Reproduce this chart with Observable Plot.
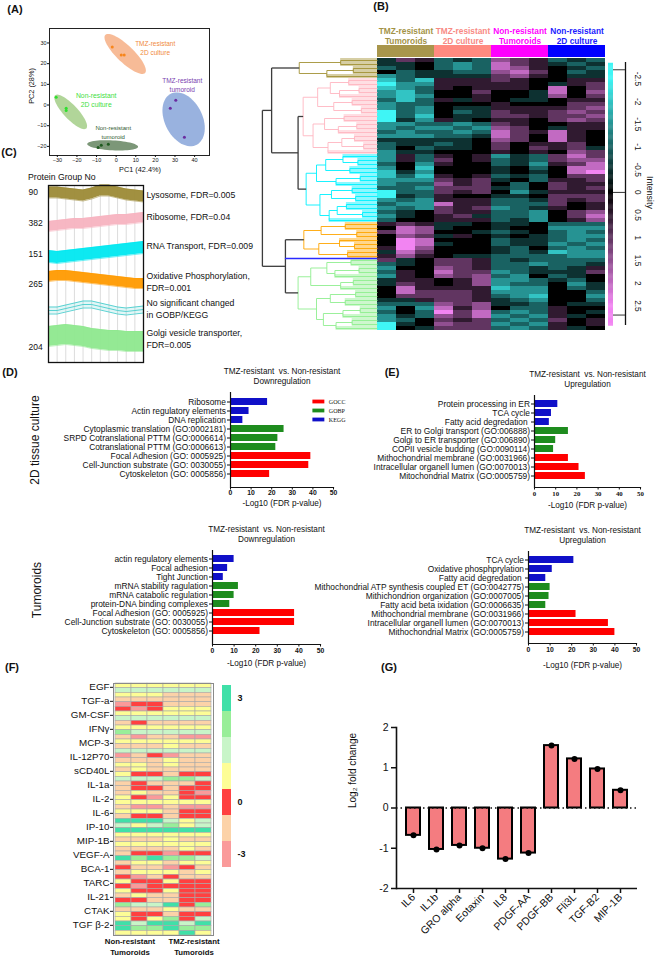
<!DOCTYPE html>
<html><head><meta charset="utf-8">
<script src="https://cdn.jsdelivr.net/npm/d3@7"></script>
<script src="https://cdn.jsdelivr.net/npm/@observablehq/plot@0.6"></script>
<style>
body{margin:0;background:#fff;}
#fig{position:relative;width:660px;height:961px;overflow:hidden;background:#fff;font-family:"Liberation Sans",Arial,sans-serif;}
.abs{position:absolute;}
</style></head><body><div id="fig"></div>
<script>
const FONT='"Liberation Sans", Arial, sans-serif';
const SERIF='"Liberation Serif", "Times New Roman", serif';
const fig=document.getElementById("fig");

// ---------- (A) PCA ----------
const pcaGroups=["TMZ-resistant\n2D culture","TMZ-resistant\ntumoroid","Non-resistant\n2D culture","Non-resistant\ntumoroid"];
const pcaPC1=[[-2.0,2.6,4.1],[27.6,30.4,34.8],[-30.6,-25.5,-25.5],[-9.2,-7.6,-4.0]];
const pcaPC2=[[28.0,24.2,24.2],[-1.5,2.3,-15.6],[3.8,-1.6,-2.6],[-20.5,-19.5,-19.0]];
const ellCX=[4.6,34.4,-23.2,-1.8];
const ellCY=[24.7,-6.9,-3.3,-19.5];
const ellRA=[13.7,14.0,11.3,13.0];
const ellRB=[4.2,9.5,3.5,2.4];
const ellAngle=[-42,-60,-45,-3];
const labPC1=[19.9,33.7,-10.2,-1.5];
const labPC2=[27.8,9.9,2.6,-13.0];
const pcaTicksX=[-30,-20,-10,0,10,20,30,40];
const pcaTicksY=[-20,-10,0,10,20,30];

// ---------- (B) heatmap ----------
const sampleIds=d3.range(12);
const groupNames=["TMZ-resistant\nTumoroids","TMZ-resistant\n2D culture","Non-resistant\nTumoroids","Non-resistant\n2D culture"];
// row codes: a=-2.5, b=-2 ... f=0 ... k=2.5
const heatRows=[
"ehgdedihgded","eefdcdjhgede","defdcdjigfed","fdeeddijhfde","cdeeeehigfee",
"bdbggghgffgg","accgggggfegh","bcdgfgggfjfh","cbdffhffejfi","cbcffgffeifh","dbdgegfeefgg","cddfffgfffhh","cdcfeegggghi","adcfdehgghih","adbfeehhghhi","aecgefggfhih","ccddcdhgffgg","cdccdcihfegg","dcddcdjhgjgf","cccddejhfjgf","eeeeefihfjgf","deedefhfgghf","dfdeefhfhghe","ceefffgfgfih",
"cgdgfgcedhjh","cgdhfgdedhii","dfcgffdecghj","cfbfffefdfjj","becfffefefjk","bdbgfgdedfhh","ccchghefdggh","cddighfdfhgg","ddchhhedfhgh","addhghfceggg","aedgffeefhhh","cdcgggddehgh","dccjggdddhfg","cdchghcdegfg","defhggddcfhi","cefgheddcfhj","dffgggdecfgi",
"ghgeefeefddd","fjieffeffccc","hjiffedefdcd","fihegfefedcc","fkjfffdeedcd","fkjeffdeecdc","gkifffedfdcd","ejhfffedebcc","gigfeeddddcc",
"hefhhgdedddd","defhhgddcdde","cffihgddedeg","dgfjhhcdeeeh","cgfihidcfdef","eggfgiccdedf","ehgfgicddfce","fjggggbccfde","fjhhhgcccffd","fhhhhgdcbffc","eeghhgedcffd","dddihieedfee","cfcjgifddgff","dfdkhjdcdgfe","cedihjcdcgef","cdfhghdcdhfg","aefihhcdcgfg","afehhhdcdgef"];
const clusterSizes=[5,19,17,9,18];
const clusterColors=["#a39236","#ffb6c1","#00f0ff","#ffa500","#90ee90"];
// linkage heights between adjacent rows (67 values)
const mergeHeights=[3.2,6.8,2.1,4.4, 9.2,
 2.5,4.1,1.6,3.3,5.2,2.2,3.8,1.4,6.46,2.9,4.6,1.8,3.4,5.6,2.0,3.1,1.2,4.3, 6.9,
 3.0,1.7,4.5,2.4,5.3,1.5,3.6,6.2,2.2,4.0,1.9,5.0,2.7,3.5,1.3,4.2, 10.0,
 2.8,4.9,1.8,6.4,3.3,2.0,5.1,2.6, 8.0,
 2.3,4.4,1.6,3.7,5.8,2.1,3.2,6.9,1.9,4.1,2.8,5.3,1.5,3.0,4.7,2.2,3.6];
const blueLeaf=[{h:8.0,row:50}];
const intensityTicks=[-2.5,-2,-1.5,-1,-0.5,0,0.5,1,1.5,2,2.5];

// ---------- (C) profiles ----------
const profNames=["olive","pink","cyan","orange","nosig","golgi"];
const profColors=["#9c8a36","#f7b3c0","#00e8f0","#ff9a00","#36c8c8","#8ee88e"];
const profCenter=[
 [0.1,0.1,0,-0.1,-0.2,0,0.3,0.3,0.1,-0.1,-0.2,-0.3],
 [-3.3,-3.2,-3.1,-3.0,-3.0,-2.9,-2.8,-2.7,-2.6,-2.6,-2.5,-2.4],
 [-6.3,-6.4,-6.3,-6.2,-6.1,-6.0,-5.9,-5.8,-5.7,-5.6,-5.5,-5.4],
 [-8.3,-8.2,-8.2,-8.3,-8.4,-8.5,-8.6,-8.7,-8.8,-8.9,-9.0,-9.0],
 [-11.7,-11.7,-11.5,-11.3,-11.1,-11.1,-11.3,-11.5,-11.7,-11.8,-11.7,-11.6],
 [-14.3,-14.2,-14.1,-14.2,-14.3,-14.5,-14.6,-14.7,-14.7,-14.8,-14.8,-14.8]];
const profSpread=[0.55,0.5,0.6,0.5,0.35,1.0];
const profLabels=["Lysosome, FDR=0.005","Ribosome, FDR=0.04","RNA Transport, FDR=0.009","Oxidative Phosphorylation,\nFDR=0.001","No significant changed\nin GOBP/KEGG","Golgi vesicle transporter,\nFDR=0.005"];
const profLabelY=[-0.1,-2.3,-5.2,-8.8,-11.5,-14.5];
const groupCounts=["90","382","151","265","204"];
const groupCountY=[0.1,-3.0,-6.1,-9.1,-15.4];

// ---------- (D)/(E) enrichment ----------
const enrTypes=["KEGG","KEGG","KEGG","GOBP","GOBP","GOBP","GOCC","GOCC","GOCC"];
const typeDomain=["GOCC","GOBP","KEGG"];
const typeColors=["#ff0000","#1e8c1e","#1010c8"];
const d1Names=["Ribosome","Actin regulatory elements","DNA replication","Cytoplasmic translation (GO:0002181)","SRPD Cotranslational PTTM (GO:0006614)","Cotranslational PTTM (GO:0006613)","Focal Adhesion (GO: 0005925)","Cell-Junction substrate (GO: 0030055)","Cytoskeleton (GO: 0005856)"];
const d1Values=[18,9,6,26,23,22,39,38,19];
const e1Names=["Protein processing in ER","TCA cycle","Fatty acid degredation ","ER to Golgi transport (GO:006888)","Golgi to ER transporter (GO:006890)","COPII vesicle budding (GO:0090114)","Mithochondrial membrane (GO:0031966)","Intracellular organell lumen (GO:0070013)","Mitochondrial Matrix (GO:0005759)"];
const e1Values=[11,8,7,16,10,9,16,21,24];
const d2Names=["actin regulatory elements","Focal adhesion","Tight Junction","mRNA stability ragulation","mRNA catabolic regulation","protein-DNA binding complexes","Focal Adhesion (GO: 0005925)","Cell-Junction substrate (GO: 0030055)","Cytoskeleton (GO: 0005856)"];
const d2Values=[10,7,5,12,10,8,38,38,22];
const e2Names=["TCA cycle","Oxidative phosphprylation","Fatty acid degredation ","Mithochondrial ATP synthesis coupled ET (GO:0042775)","Mithichondrion organization (GO:0007005)","Fatty acid beta ixidation (GO:0006635)","Mithochondrial membrane (GO:0031966)","Intracellular organell lumen (GO:0070013)","Mithochondrial Matrix (GO:0005759)"];
const e2Values=[21,11,8,10,9.5,8,22,37,40];
const enrTicks=[0,10,20,30,40,50];

// ---------- (F) cytokine heatmap ----------
const cytokines=["EGF","TGF-a","GM-CSF","IFNγ","MCP-3","IL-12P70","sCD40L","IL-1a","IL-2","IL-6","IP-10","MIP-1B","VEGF-A","BCA-1","TARC","IL-21","CTAK","TGF β-2"];
const fCols=["N1","N2","N3","T1","T2","T3"];
const fLevels=["T","G","L","Y","R","P","K"];
const fLevelColors=["#40e0a8","#99ee99","#c8f5c8","#fdfd96","#ff4040","#fcd2a8","#fa9a9a"];
const fLegendText=[["T","3"],["R","0"],["K","-3"]];
const fRows=["YYYYYY","LLLLLL","YYYPPP","PPPPPP","KRRPPP","RKRYYY","YYYYYY","LLLLLL","PRPPPP","YYYYYY","GLLLLL","PKPPKK","YYYYYY","PPPYPP","LLLLLL","KPRKPP","PPPYPP","YYPYPP","PYPPPP","YRRPRR","LLLGGL","PRPPPR","PRRPRR","PYPPRK","YRKYRR","YYYYYY","PKKPKK","YYYPRR","PRRPRR","TTTLYL","LYLGYL","TTTTTT","YYYYYY","PPPYPP","YYYYYY","PPPPYP","PRRKRR","TGTGGL","PYYPYY","RPPKRP","PYYYPY","RKPRPP","YRRYRR","RKRRRR","YRRYRR","PYPPRR","RRPPRR","GLLTRG","PPPYPP","YRRPRR","YRYGRL","TLTTLT","TGGTGG","YYYYTY"];

// ---------- (G) fold change ----------
const gNames=["IL6","IL1b","GRO alpha","Eotaxin","IL8","PDGF-AA","PDGF-BB","Fli3L","TGF-B2","MIP-1B"];
const gValues=[-0.68,-1.03,-0.93,-1.0,-1.27,-1.12,1.55,1.22,0.97,0.44];

// ================= helpers =================
function place(node,left,top,w){const d=document.createElement("div");d.className="abs";d.style.left=left+"px";d.style.top=top+"px";if(w)d.style.width=w+"px";d.appendChild(node);fig.appendChild(d);}
function mk(o){const st=Object.assign({background:"transparent",overflow:"visible",fontFamily:FONT,color:"#111"},o.style||{});return Plot.plot(Object.assign({},o,{style:st}));}
function label(text,x,y,o={}){const d=document.createElement("div");d.textContent=text;
 d.style.cssText=`position:absolute;left:${x}px;top:${y}px;white-space:pre;line-height:${o.lh||1.2};font-size:${o.size||10}px;font-weight:${o.weight||"normal"};color:${o.color||"#111"};font-family:${o.font||FONT};text-align:${o.align||"center"};transform:translate(${o.anchor==="start"?"0":"-50%"},-50%) rotate(${o.rotate||0}deg);`;
 fig.appendChild(d);}

// ================= (A) =================
const ellFill=["#f6b48c","#8eaadc","#a9d08e","#6e8c69"];
const ptColor=["#f7861c","#6a2ca0","#2ee02e","#1f5a1f"];
const labColor=["#f08a3c","#7a3fb0","#3ee03e","#2f5a2f"];
const labSize=[6.5,6.5,6.8,6.0];
const ellPts=[];
pcaGroups.forEach((g,k)=>{const a=ellAngle[k]*Math.PI/180;for(let t=0;t<=360;t+=6){const u=t*Math.PI/180;
 ellPts.push({k,x:ellCX[k]+ellRA[k]*Math.cos(u)*Math.cos(a)-ellRB[k]*Math.sin(u)*Math.sin(a),y:ellCY[k]+ellRA[k]*Math.cos(u)*Math.sin(a)+ellRB[k]*Math.sin(u)*Math.cos(a)});}});
const pcaPts=pcaGroups.flatMap((g,k)=>pcaPC1[k].map((x,i)=>({k,x,y:pcaPC2[k][i]})));
place(mk({width:215,height:176,marginLeft:49,marginRight:6,marginTop:28,marginBottom:21,
 x:{domain:[-34,47.6]},y:{domain:[-24.4,37]},color:{type:"identity"},
 style:{fontSize:"5.5px"},
 marks:[
  ...pcaGroups.map((g,k)=>Plot.line(ellPts.filter(p=>p.k===k),{x:"x",y:"y",fill:ellFill[k],fillOpacity:0.9,stroke:"none"})),
  Plot.dot(pcaPts,{x:"x",y:"y",r:1.5,fill:d=>ptColor[d.k],stroke:"none"}),
  ...pcaGroups.map((g,k)=>Plot.text([g],{x:()=>labPC1[k],y:()=>labPC2[k],text:d=>d,fill:labColor[k],fontSize:labSize[k],lineHeight:1.4})),
  Plot.frame({stroke:"#222"}),
  Plot.axisX({ticks:pcaTicksX,tickSize:2,tickPadding:1,label:null,fontSize:5.5}),
  Plot.axisY({ticks:pcaTicksY,tickSize:2,tickPadding:1,label:null,fontSize:5.5})
 ]}),0,0,215);
label("PC1 (42.4%)",140,170,{size:7.3});
label("PC2 (28%)",32,86,{size:7.3,rotate:-90});

// ================= (B) =================
const heatColor={type:"linear",domain:[-2.5,0,2.5],range:["#3ff5f5","#000000","#f284f2"],interpolate:"rgb",clamp:true};
const cells=heatRows.flatMap((s,r)=>[...s].map((ch,c)=>({r,c,v:(ch.charCodeAt(0)-97)*0.5-2.5})));
place(mk({width:228,height:272,margin:0,x:{domain:sampleIds,padding:0,axis:null},y:{domain:d3.range(heatRows.length),padding:0,axis:null},color:heatColor,
 marks:[Plot.cell(cells,{x:"c",y:"r",fill:"v",inset:0,shapeRendering:"crispEdges"})]}),377,58,228);

// dendrogram
const rowCluster=clusterSizes.flatMap((n,k)=>Array(n).fill(k));
const dendSegs=[],leafFill=[];
function build(lo,hi){
 if(lo===hi)return{h:0,y:lo+0.5,k:rowCluster[lo],leaf:lo};
 let m=lo;for(let i=lo;i<hi;i++)if(mergeHeights[i]>mergeHeights[m])m=i;
 const L=build(lo,m),R=build(m+1,hi);
 const k=L.k===R.k?L.k:-1;const col=k<0?"#3c3c3c":clusterColors[k];const h=mergeHeights[m];
 dendSegs.push({x1:h,y1:L.y,x2:h,y2:R.y,c:col,w:k<0?1.3:0.9});
 for(const ch of[L,R]){dendSegs.push({x1:ch.h,y1:ch.y,x2:h,y2:ch.y,c:col,w:k<0?1.3:0.9});if(ch.leaf!==undefined)leafFill.push({row:ch.leaf,h,c:col});}
 return{h,y:(L.y+R.y)/2,k};}
build(0,heatRows.length-1);
place(mk({width:122,height:272,margin:0,x:{domain:[10.6,0],range:[0,122],axis:null},y:{domain:[0,68],range:[0,272],axis:null},color:{type:"identity"},
 marks:[
  Plot.rect(leafFill,{x1:0,x2:"h",y1:"row",y2:d=>d.row+1,fill:"c",fillOpacity:0.45}),
  Plot.link(dendSegs,{x1:"x1",y1:"y1",x2:"x2",y2:"y2",stroke:"c",strokeWidth:"w"}),
  Plot.ruleY(blueLeaf,{y:"row",x1:"h",x2:0,stroke:"#2a2aff",strokeWidth:1.6})
 ]}),255,58,122);

// header
const groupBand=["#a8964c","#ff8a80","#ff00ff","#0000ff"];
const groupText=["#a39346","#f88a84","#ff00ff","#1a1aff"];
place(mk({width:238,height:40,marginLeft:5,marginRight:5,marginTop:27,marginBottom:1,x:{domain:groupNames,padding:0,axis:null},color:{type:"identity"},
 marks:[
  Plot.cell(groupNames,{x:d=>d,fill:(d,i)=>groupBand[i],inset:0}),
  Plot.text(groupNames,{x:d=>d,text:d=>d,frameAnchor:"top",lineAnchor:"bottom",dy:-2,fill:(d,i)=>groupText[i],fontWeight:"bold",fontSize:8.3,lineHeight:1.2})
 ]}),372,18,238);

// intensity legend
place(mk({width:60,height:290,margin:0,x:{domain:[0,60],range:[0,60],axis:null},y:{domain:[-2.86,2.93],range:[12,275],axis:null},color:heatColor,
 marks:[
  Plot.ruleY(d3.range(-2.84,2.93,0.02),{y:d=>d,x1:8,x2:13,stroke:d=>d,strokeWidth:1.3}),
  Plot.ruleX([25],{y1:-2.86,y2:2.93,stroke:"#111",strokeWidth:1.3}),
  Plot.ruleY([-2.7,0,2.7],{x1:13,x2:25,stroke:"#333",strokeWidth:1}),
  Plot.text(intensityTicks,{x:37,y:d=>d,text:d=>String(d),rotate:90,fontSize:8.3}),
  Plot.text(["Intensity"],{x:49,y:()=>0,text:d=>d,rotate:90,fontSize:8.8})
 ]}),600,50,60);

// ================= (C) =================
const bandData=profNames.flatMap((n,k)=>profCenter[k].map((c,i)=>({k,s:i+1,c,lo:c-profSpread[k],hi:c+profSpread[k]})));
const cMarks=[Plot.ruleX(d3.range(1,13),{stroke:"#dcdcdc",strokeWidth:1})];
profNames.forEach((n,k)=>{
 const d=bandData.filter(b=>b.k===k);
 if(n==="nosig"){
  cMarks.push(Plot.areaY(d,{x:"s",y1:"lo",y2:"hi",fill:profColors[k],fillOpacity:0.15}));
  for(const f of["lo","c","hi"])cMarks.push(Plot.lineY(d,{x:"s",y:f,stroke:profColors[k],strokeWidth:0.8}));
 } else {
  cMarks.push(Plot.areaY(d,{x:"s",y1:"lo",y2:"hi",fill:profColors[k],fillOpacity:0.95}));
  for(const f of["lo","hi"])cMarks.push(Plot.lineY(d,{x:"s",y:f,stroke:profColors[k],strokeWidth:0.8,strokeOpacity:0.7}));
 }
});
cMarks.push(Plot.frame({stroke:"#111",strokeWidth:1.3}));
cMarks.push(Plot.text(profLabels,{y:(d,i)=>profLabelY[i],text:d=>d,frameAnchor:"right",textAnchor:"start",dx:3,fontSize:8.7,lineHeight:1.4}));
cMarks.push(Plot.text(groupCounts,{y:(d,i)=>groupCountY[i],text:d=>d,frameAnchor:"left",textAnchor:"start",dx:-20,fontSize:8.5}));
place(mk({width:245,height:200,marginLeft:48,marginRight:102,marginTop:15,marginBottom:8,x:{domain:[1,12],axis:null},y:{domain:[-16.9,0.8],axis:null},marks:cMarks}),0,170,245);
label("Protein Group No",28,177,{size:8.7,anchor:"start"});

// ================= (D)/(E) =================
function barPanel(o){
 const rows=o.names.map((n,i)=>({name:n,value:o.values[i],type:enrTypes[i]}));
 const marks=[
  Plot.barX(rows,{x:"value",y:"name",fill:"type"}),
  Plot.ruleX([0],{stroke:"#111",strokeWidth:1.2}),
  Plot.frame({anchor:"bottom",stroke:"#111",strokeWidth:1.2}),
  Plot.axisY({tickSize:3,tickPadding:1.5,label:null,fontSize:8.4}),
  Plot.axisX({ticks:enrTicks,tickSize:2.5,tickPadding:o.tp,label:null,fontWeight:"bold",fontFamily:o.tickFont,fontSize:6.8}),
  Plot.text(["TMZ-resistant  vs. Non-resistant\n"+o.sub],{text:d=>d,frameAnchor:"top",lineAnchor:"middle",dy:-17,fontSize:8.2,lineHeight:1.3}),
  Plot.text(["-Log10 (FDR p-value)"],{text:d=>d,frameAnchor:"bottom",dy:o.xlDy,fontSize:8.2})
 ];
 if(o.legend){
  marks.push(Plot.barX(typeDomain,{x1:40,x2:45.8,y:(d,i)=>o.names[i],fill:d=>d,insetTop:1.6,insetBottom:1.6}));
  marks.push(Plot.text(typeDomain,{x:45.8,y:(d,i)=>o.names[i],text:d=>d,dx:4,textAnchor:"start",fontFamily:SERIF,fontSize:6}));
 }
 place(mk({width:o.w,height:o.h,marginLeft:o.mL,marginRight:o.mR,marginTop:o.mT,marginBottom:o.mB,
  x:{domain:[0,50]},y:{domain:o.names,paddingInner:0.25,paddingOuter:0.7,align:0.35},
  color:{domain:typeDomain,range:typeColors},style:{fontSize:"8.4px"},marks}),o.left,o.top,o.w);
}
barPanel({names:d1Names,values:d1Values,sub:"Downregulation",left:0,top:362,w:340,h:150,mL:230,mR:7,mT:30,mB:25,xlDy:18,tp:0,tickFont:FONT,legend:true});
barPanel({names:e1Names,values:e1Values,sub:"Upregulation",left:330,top:362,w:330,h:150,mL:204,mR:20,mT:33,mB:25,xlDy:20,tp:1,tickFont:SERIF});
barPanel({names:d2Names,values:d2Values,sub:"Downregulation",left:0,top:515,w:330,h:160,mL:212,mR:10,mT:35,mB:31,xlDy:21,tp:1,tickFont:FONT});
barPanel({names:e2Names,values:e2Values,sub:"Upregulation",left:290,top:515,w:370,h:160,mL:238,mR:24,mT:36,mB:32,xlDy:24,tp:1,tickFont:FONT});
label("2D tissue culture",35,440,{size:12,rotate:-90});
label("Tumoroids",37,590,{size:12,rotate:-90});

// ================= (F) =================
const fCells=fRows.flatMap((s,r)=>[...s].map((ch,c)=>({row:r,col:fCols[c],lvl:ch})));
place(mk({width:215,height:286,marginLeft:113,marginRight:2,marginTop:8,marginBottom:26,
 x:{domain:fCols,padding:0,axis:null},y:{domain:d3.range(fRows.length),padding:0},
 color:{domain:fLevels,range:fLevelColors},style:{fontSize:"9.5px"},
 marks:[
  Plot.cell(fCells,{x:"col",y:"row",fill:"lvl",stroke:"#a8a8a8",strokeWidth:0.6,inset:0}),
  Plot.frame({stroke:"#8a8a8a"}),
  Plot.axisY({ticks:d3.range(0,fRows.length,3),tickFormat:i=>cytokines[i/3],tickSize:3,tickPadding:1,label:null,dy:1.5,fontSize:9.8})
 ]}),0,675,215);
place(mk({width:45,height:200,marginLeft:7,marginRight:29,marginTop:9,marginBottom:7,
 y:{domain:fLevels,padding:0,axis:null},color:{domain:fLevels,range:fLevelColors},
 marks:[
  Plot.cell(fLevels,{y:d=>d,fill:d=>d,inset:0}),
  Plot.text(fLegendText,{y:d=>d[0],text:d=>d[1],frameAnchor:"right",textAnchor:"start",dx:6,fontWeight:"bold",fontSize:9})
 ]}),215,675,45);
label("Non-resistant\nTumoroids",130,948,{size:7.8,weight:"bold",lh:1.4});
label("TMZ-resistant\nTumoroids",194,948,{size:7.8,weight:"bold",lh:1.4});

// ================= (G) =================
const gData=gNames.map((n,i)=>({name:n,value:gValues[i]}));
place(mk({width:330,height:246,marginLeft:66,marginRight:23,marginTop:12,marginBottom:73,
 x:{domain:gNames,paddingInner:0.37,paddingOuter:0.27},y:{domain:[-2,2]},style:{fontSize:"10px"},
 marks:[
  Plot.barY(gData,{x:"name",y:"value",fill:"#f47c80",stroke:"#000",strokeWidth:2}),
  Plot.ruleY([0],{strokeDasharray:"1.5,3",strokeWidth:1.5,stroke:"#111"}),
  Plot.dot(gData,{x:"name",y:"value",r:3,fill:"#000"}),
  Plot.ruleY([-2],{strokeWidth:1.6,stroke:"#111"}),
  Plot.frame({anchor:"left",strokeWidth:1.6,stroke:"#111"}),
  Plot.axisY({ticks:[-2,-1,0,1,2],tickSize:5,tickPadding:3,label:null,tickFormat:d=>String(d),strokeWidth:1.5,fontSize:10.5}),
  Plot.axisX({tickRotate:-45,tickSize:5,tickPadding:2,label:null,strokeWidth:1.5,fontSize:10.5}),
  Plot.text(["Log₂ fold change"],{text:d=>d,frameAnchor:"left",rotate:-90,dx:-44,fontSize:10})
 ]}),330,715,330);

// panel letters
label("(A)",15,10,{size:11,weight:"bold"});
label("(B)",381,7,{size:11,weight:"bold"});
label("(C)",9,153,{size:11,weight:"bold"});
label("(D)",10,373,{size:11,weight:"bold"});
label("(E)",392,373,{size:11,weight:"bold"});
label("(F)",12,668,{size:11,weight:"bold"});
label("(G)",389,668,{size:11,weight:"bold"});
</script></body></html>
